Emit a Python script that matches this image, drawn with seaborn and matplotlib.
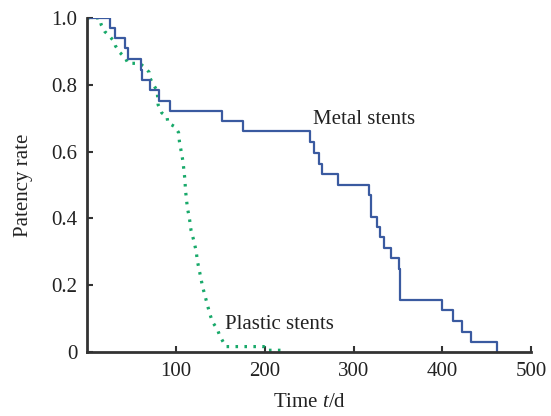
"""Patency rate over time: metal vs plastic stents (Kaplan-Meier style)."""
import matplotlib
matplotlib.use("Agg")
import matplotlib.pyplot as plt
import pandas as pd
import seaborn as sns

# Metal stents: step curve (time in days, patency after the step)
metal_t = [0, 26, 31, 43, 46, 61, 62, 71, 81, 93, 152, 176, 251, 255, 261, 265,
           282, 317, 320, 326, 330, 334, 342, 351, 352, 400, 412, 422, 432, 461]
metal_s = [1.0, 0.970, 0.939, 0.909, 0.877, 0.845, 0.813, 0.783, 0.752, 0.720,
           0.690, 0.660, 0.628, 0.595, 0.563, 0.533, 0.500, 0.470, 0.405, 0.375,
           0.345, 0.312, 0.282, 0.248, 0.156, 0.126, 0.094, 0.061, 0.029, 0.0]

# Plastic stents: traced dotted curve
plastic_t = [0, 14, 16, 20, 25, 30, 32, 37, 43, 46, 59, 64, 70, 71, 75, 79, 80,
             84, 90, 91, 99, 103, 104, 108, 109, 110, 111, 113, 115, 117, 120,
             123, 124, 127, 130, 133, 135, 138, 141, 147, 149, 153, 156, 199,
             201, 219]
plastic_s = [1.0, 1.0, 0.979, 0.959, 0.946, 0.931, 0.916, 0.896, 0.881, 0.864,
             0.864, 0.854, 0.837, 0.819, 0.799, 0.781, 0.740, 0.716, 0.704,
             0.686, 0.674, 0.657, 0.630, 0.570, 0.545, 0.520, 0.480, 0.430,
             0.405, 0.365, 0.335, 0.300, 0.275, 0.236, 0.196, 0.166, 0.146,
             0.116, 0.091, 0.066, 0.051, 0.031, 0.016, 0.016, 0.005, 0.005]

x_ticks = [100, 200, 300, 400, 500]
y_ticks = [0, 0.2, 0.4, 0.6, 0.8, 1.0]
y_labels = ["0", "0.2", "0.4", "0.6", "0.8", "1.0"]

BLUE = "#3a5aa0"
GREEN = "#18a96a"
FS = 15

sns.set_theme(style="ticks")
plt.rcParams["font.family"] = ["Liberation Serif", "DejaVu Serif"]
plt.rcParams["mathtext.fontset"] = "custom"
plt.rcParams["mathtext.rm"] = "Liberation Serif"
plt.rcParams["mathtext.it"] = "Liberation Serif:italic"

metal_df = pd.DataFrame({"t": metal_t, "s": metal_s})
plastic_df = pd.DataFrame({"t": plastic_t, "s": plastic_s})

fig, ax = plt.subplots(figsize=(5.51, 4.16), dpi=100)
fig.subplots_adjust(left=0.158, right=0.964, bottom=0.154, top=0.957)

sns.lineplot(data=plastic_df, x="t", y="s", ax=ax, color=GREEN, lw=2.3,
             linestyle=(0, (0.8, 2.0)), sort=False, estimator=None)
sns.lineplot(data=metal_df, x="t", y="s", ax=ax, color=BLUE, lw=1.6,
             drawstyle="steps-post", sort=False, estimator=None)

ax.set_xlim(0, 500)
ax.set_ylim(0, 1.0)
ax.set_xticks(x_ticks)
ax.set_yticks(y_ticks)
ax.set_yticklabels(y_labels)
ax.tick_params(direction="in", length=4, width=1.5, labelsize=FS, pad=7,
               color="#333333", labelcolor="#222222")
for side in ("left", "bottom"):
    ax.spines[side].set_linewidth(2)
    ax.spines[side].set_color("#333333")
sns.despine(ax=ax)

ax.set_xlabel("Time $t$/d", fontsize=FS, color="#222222", labelpad=9)
ax.set_ylabel("Patency rate", fontsize=FS, color="#222222", labelpad=13)

ax.text(254, 0.695, "Metal stents", fontsize=FS, va="center", ha="left",
        color="#222222")
ax.text(155, 0.081, "Plastic stents", fontsize=FS, va="center", ha="left",
        color="#222222")

fig.savefig("out.png", dpi=100)
